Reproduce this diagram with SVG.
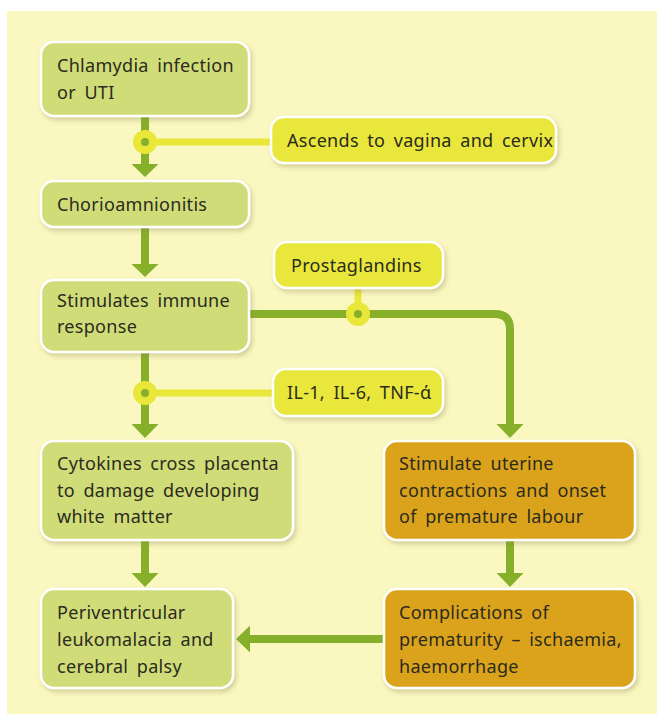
<svg xmlns="http://www.w3.org/2000/svg" width="657" height="715" viewBox="0 0 657 715">
<defs>
<filter id="sh" x="-10%" y="-10%" width="130%" height="140%">
<feDropShadow dx="2" dy="3" stdDeviation="2.5" flood-color="#8a8050" flood-opacity="0.35"/>
</filter>
</defs>
<style>
.t{font-family:"Noto Sans","Open Sans",sans-serif;font-size:18px;fill:#2b2b1e;letter-spacing:0.3px;word-spacing:3.5px}
.g{fill:#d0dc78;stroke:#fff;stroke-width:2.5;filter:url(#sh)}
.y{fill:#e9e73a;stroke:#fff;stroke-width:2.5;filter:url(#sh)}
.o{fill:#dba31c;stroke:#fff;stroke-width:2.5;filter:url(#sh)}
.gl{fill:none;stroke:#86b02a;stroke-width:8}
.yl{fill:none;stroke:#e9e73a;stroke-width:7}
.ah{fill:#86b02a}
</style>
<rect x="7" y="11" width="650" height="703" fill="#faf8c0"/>
<g id="connectors">
<path class="gl" d="M145,116 V164"/>
<path class="ah" d="M131.5,164 H158.5 L145,177 Z"/>
<path class="gl" d="M145,227 V264"/>
<path class="ah" d="M131.5,264 H158.5 L145,277 Z"/>
<path class="gl" d="M145,352 V424"/>
<path class="ah" d="M131.5,424 H158.5 L145,438 Z"/>
<path class="gl" d="M145,540 V573"/>
<path class="ah" d="M131.5,573 H158.5 L145,587 Z"/>
<path class="gl" d="M249,314 H495 Q510,314 510,329 V424"/>
<path class="ah" d="M496.5,424 H523.5 L510,438 Z"/>
<path class="gl" d="M510,540 V573"/>
<path class="ah" d="M496.5,573 H523.5 L510,587 Z"/>
<path class="gl" d="M384,639 H250"/>
<path class="ah" d="M250,625.5 V652.5 L236,639 Z"/>
<path class="yl" d="M145,142 H272"/>
<circle cx="145" cy="142" r="12" fill="#e9e73a"/>
<circle cx="145" cy="142" r="4" fill="#86b02a"/>
<path class="yl" d="M145,393 H274"/>
<circle cx="145" cy="393" r="12" fill="#e9e73a"/>
<circle cx="145" cy="393" r="4" fill="#86b02a"/>
<path class="yl" d="M358,288 V314"/>
<circle cx="358" cy="314" r="12" fill="#e9e73a"/>
<circle cx="358" cy="314" r="4" fill="#86b02a"/>
</g>
<g id="chlamydia">
<rect class="g" x="41" y="42" width="208" height="74" rx="13"/>
<text class="t" x="57" y="72">Chlamydia infection</text>
<text class="t" x="57" y="99">or UTI</text>
</g>
<g id="ascends">
<rect class="y" x="271" y="117" width="285" height="46" rx="13"/>
<text class="t" x="287" y="147">Ascends to vagina and cervix</text>
</g>
<g id="chorio">
<rect class="g" x="41" y="181" width="208" height="46" rx="13"/>
<text class="t" x="57" y="211">Chorioamnionitis</text>
</g>
<g id="prostaglandins">
<rect class="y" x="274" y="242" width="169" height="46" rx="13"/>
<text class="t" x="291" y="272">Prostaglandins</text>
</g>
<g id="immune">
<rect class="g" x="41" y="280" width="208" height="72" rx="13"/>
<text class="t" x="57" y="307">Stimulates immune</text>
<text class="t" x="57" y="333">response</text>
</g>
<g id="il">
<rect class="y" x="273" y="369" width="170" height="47" rx="13"/>
<text class="t" x="287" y="399">IL-1, IL-6, TNF-ά</text>
</g>
<g id="cytokines">
<rect class="g" x="41" y="441" width="252" height="99" rx="13"/>
<text class="t" x="57" y="470">Cytokines cross placenta</text>
<text class="t" x="57" y="497">to damage developing</text>
<text class="t" x="57" y="523">white matter</text>
</g>
<g id="uterine">
<rect class="o" x="384" y="441" width="251" height="99" rx="13"/>
<text class="t" x="399" y="470">Stimulate uterine</text>
<text class="t" x="399" y="497">contractions and onset</text>
<text class="t" x="399" y="523">of premature labour</text>
</g>
<g id="pvl">
<rect class="g" x="41" y="589" width="192" height="99" rx="13"/>
<text class="t" x="57" y="619">Periventricular</text>
<text class="t" x="57" y="646">leukomalacia and</text>
<text class="t" x="57" y="673">cerebral palsy</text>
</g>
<g id="complications">
<rect class="o" x="384" y="589" width="251" height="99" rx="13"/>
<text class="t" x="399" y="619">Complications of</text>
<text class="t" x="399" y="646">prematurity – ischaemia,</text>
<text class="t" x="399" y="673">haemorrhage</text>
</g>
</svg>
